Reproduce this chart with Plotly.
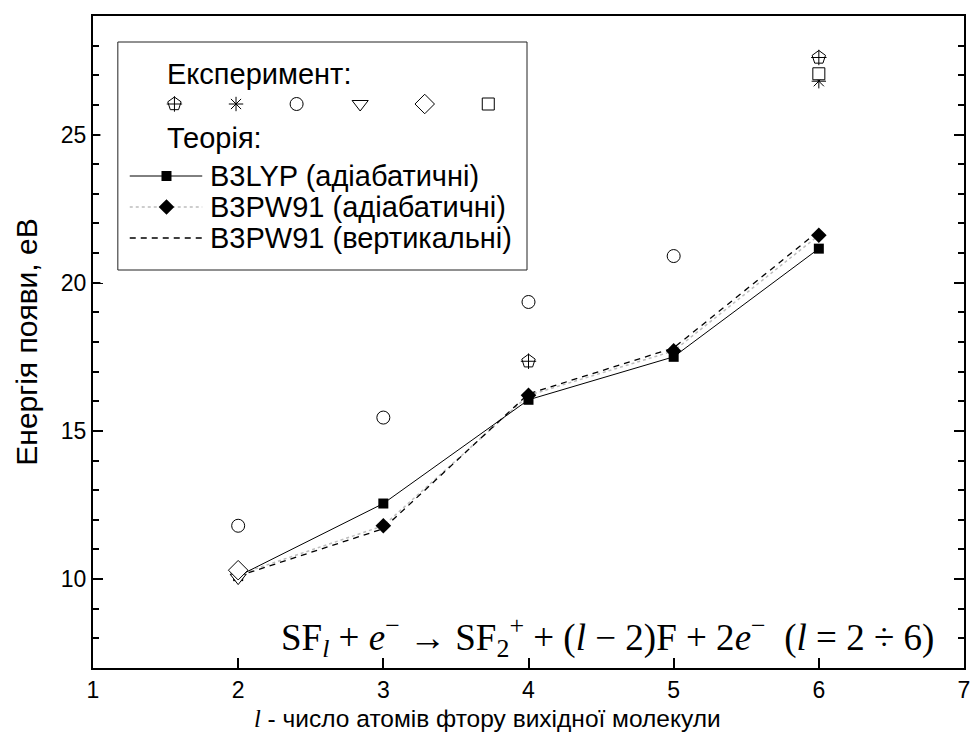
import plotly.graph_objects as go

# Number of fluorine atoms in the parent molecule
l_theory = [2, 3, 4, 5, 6]
# Calculated appearance energies, eV
b3lyp_adiab = [10.1, 12.55, 16.05, 17.5, 21.15]
b3pw91_adiab = [10.15, 11.8, 16.2, 17.7, 21.6]
b3pw91_vert = [10.1, 11.7, 16.25, 17.8, 21.75]

# Experimental appearance energies, eV (one list per source)
exp_pent_l, exp_pent_e = [4, 6], [17.35, 27.6]
exp_ast_l, exp_ast_e = [6], [26.8]
exp_circ_l, exp_circ_e = [2, 3, 4, 5], [11.8, 15.45, 19.35, 20.9]
exp_tri_l, exp_tri_e = [2], [10.05]
exp_dia_l, exp_dia_e = [2], [10.3]
exp_sq_l, exp_sq_e = [6], [27.05]

x_ticks = [1, 2, 3, 4, 5, 6, 7]
y_ticks = [10, 15, 20, 25]

SANS = "Liberation Sans, Arial, sans-serif"
SERIF = "Liberation Serif, Times New Roman, serif"
BLACK = "#000000"

fig = go.Figure()

# --- theory curves ---
fig.add_trace(go.Scatter(
    x=l_theory, y=b3pw91_adiab, mode="lines+markers",
    line=dict(color="#bdbdbd", width=1.5, dash="dot"),
    marker=dict(symbol="diamond", size=12, color=BLACK), showlegend=False))
fig.add_trace(go.Scatter(
    x=l_theory, y=b3pw91_vert, mode="lines",
    line=dict(color=BLACK, width=1.3, dash="6px,5px"), showlegend=False))
fig.add_trace(go.Scatter(
    x=l_theory, y=b3lyp_adiab, mode="lines+markers",
    line=dict(color=BLACK, width=1),
    marker=dict(symbol="square", size=10, color=BLACK), showlegend=False))


# --- experimental points (white-filled open symbols) ---
def exp_trace(xs, ys, symbol, size, xa="x", ya="y"):
    return go.Scatter(
        x=xs, y=ys, mode="markers", xaxis=xa, yaxis=ya,
        marker=dict(symbol=symbol, size=size, color="white",
                    line=dict(color=BLACK, width=1)),
        showlegend=False)


def line_symbol(xs, ys, symbol, size, xa="x", ya="y"):
    return go.Scatter(
        x=xs, y=ys, mode="markers", xaxis=xa, yaxis=ya,
        marker=dict(symbol=symbol, size=size, color=BLACK,
                    line=dict(color=BLACK, width=1)),
        showlegend=False)


def pentagon_cross(xs, ys, xa="x", ya="y"):
    return [exp_trace(xs, ys, "pentagon", 14, xa, ya),
            line_symbol(xs, ys, "cross-thin-open", 11, xa, ya)]


fig.add_trace(line_symbol(exp_ast_l, exp_ast_e, "asterisk-open", 12))
fig.add_trace(exp_trace(exp_sq_l, exp_sq_e, "square", 12))
for t in pentagon_cross(exp_pent_l, exp_pent_e):
    fig.add_trace(t)
fig.add_trace(exp_trace(exp_circ_l, exp_circ_e, "circle", 13))
fig.add_trace(exp_trace(exp_tri_l, exp_tri_e, "triangle-down", 14))
fig.add_trace(exp_trace(exp_dia_l, exp_dia_e, "diamond", 15))

# --- hand-built legend box on its own pixel-like axes ---
LX0, LX1, LY0, LY1 = 118, 530, 42, 270
LEG_FONT = dict(family=SANS, size=29, color=BLACK)
sym_y = 104
sym_x = [175, 237, 298, 362, 427, 491]
for t in pentagon_cross([sym_x[0]], [sym_y], "x2", "y2"):
    fig.add_trace(t)
fig.add_trace(line_symbol([sym_x[1]], [sym_y], "asterisk-open", 12, "x2", "y2"))
fig.add_trace(exp_trace([sym_x[2]], [sym_y], "circle", 13, "x2", "y2"))
fig.add_trace(exp_trace([sym_x[3]], [sym_y], "triangle-down", 14, "x2", "y2"))
fig.add_trace(exp_trace([sym_x[4]], [sym_y], "diamond", 15, "x2", "y2"))
fig.add_trace(exp_trace([sym_x[5]], [sym_y], "square", 12, "x2", "y2"))

rows = [
    (176, "B3LYP (адіабатичні)", dict(color=BLACK, width=1), "square", 10),
    (207, "B3PW91 (адіабатичні)", dict(color="#bdbdbd", width=1.5, dash="dot"), "diamond", 12),
    (238, "B3PW91 (вертикальні)", dict(color=BLACK, width=1.3, dash="6px,5px"), None, 0),
]
for ry, label, ln, sym, sz in rows:
    fig.add_trace(go.Scatter(x=[130, 203], y=[ry, ry], mode="lines", line=ln,
                             xaxis="x2", yaxis="y2", showlegend=False))
    if sym:
        fig.add_trace(go.Scatter(x=[167], y=[ry], mode="markers",
                                 marker=dict(symbol=sym, size=sz, color=BLACK),
                                 xaxis="x2", yaxis="y2", showlegend=False))
    fig.add_annotation(x=209, y=ry, xref="x2", yref="y2", text=label,
                       showarrow=False, xanchor="left", yanchor="middle",
                       font=LEG_FONT)

fig.add_annotation(x=165, y=74, xref="x2", yref="y2", text="Експеримент:",
                   showarrow=False, xanchor="left", yanchor="middle", font=LEG_FONT)
fig.add_annotation(x=165, y=138, xref="x2", yref="y2", text="Теорія:",
                   showarrow=False, xanchor="left", yanchor="middle", font=LEG_FONT)
fig.add_shape(type="rect", xref="x2", yref="y2", x0=LX0, x1=LX1, y0=LY0, y1=LY1,
              line=dict(color="#222222", width=1))

# --- reaction equation ---
fig.add_annotation(
    x=0.968, y=0.048, xref="paper", yref="paper", xanchor="right", yanchor="middle",
    text="SF<sub><i>l</i></sub> + <i>e</i><sup>−</sup> → SF<sub>2</sub><sup>+</sup>"
         " + (<i>l</i> − 2)F + 2<i>e</i><sup>−</sup>  (<i>l</i> = 2 ÷ 6)",
    showarrow=False, font=dict(family=SERIF, size=37, color=BLACK))

W, H = 976, 742
L, R, T, B = 93, 6, 16, 74
pw, ph = W - L - R, H - T - B

# --- x-axis title, slightly left of the plot centre ---
fig.add_annotation(
    x=(490 - L) / pw, y=-(718 - (H - B)) / ph, xref="paper", yref="paper",
    xanchor="center", yanchor="middle", showarrow=False,
    text="<span style='font-family:Liberation Serif'><i>l</i></span>"
         " - число атомів фтору вихідної молекули",
    font=dict(family=SANS, size=24.5, color=BLACK))

fig.update_layout(
    width=W, height=H,
    margin=dict(l=L, r=R, t=T, b=B),
    paper_bgcolor="white", plot_bgcolor="white",
    xaxis=dict(range=[1, 7], tickvals=x_ticks, ticks="inside", ticklen=10,
               tickwidth=1.5, tickcolor=BLACK, showline=True, linecolor=BLACK,
               linewidth=2, mirror=True, showgrid=False, zeroline=False,
               tickfont=dict(family=SANS, size=23, color=BLACK)),
    yaxis=dict(range=[7, 29], tickvals=y_ticks, ticks="inside", ticklen=10,
               tickwidth=1.5, tickcolor=BLACK, showline=True, linecolor=BLACK,
               linewidth=2, mirror="ticks", showgrid=False, zeroline=False,
               minor=dict(dtick=1, ticks="inside", ticklen=6, tickwidth=1.5,
                          tickcolor=BLACK, showgrid=False),
               tickfont=dict(family=SANS, size=23, color=BLACK),
               title=dict(text="Енергія появи, еВ",
                          font=dict(family=SANS, size=30, color=BLACK), standoff=14)),
    xaxis2=dict(domain=[(LX0 - L) / pw - 0.02, (LX1 - L) / pw + 0.02],
                range=[LX0 - 0.02 * pw, LX1 + 0.02 * pw], anchor="y2",
                visible=False, fixedrange=True),
    yaxis2=dict(domain=[(H - B - LY1) / ph - 0.02, (H - B - LY0) / ph + 0.02],
                range=[LY1 + 0.02 * ph, LY0 - 0.02 * ph], anchor="x2",
                visible=False, fixedrange=True),
)

fig.write_html("out.html")
